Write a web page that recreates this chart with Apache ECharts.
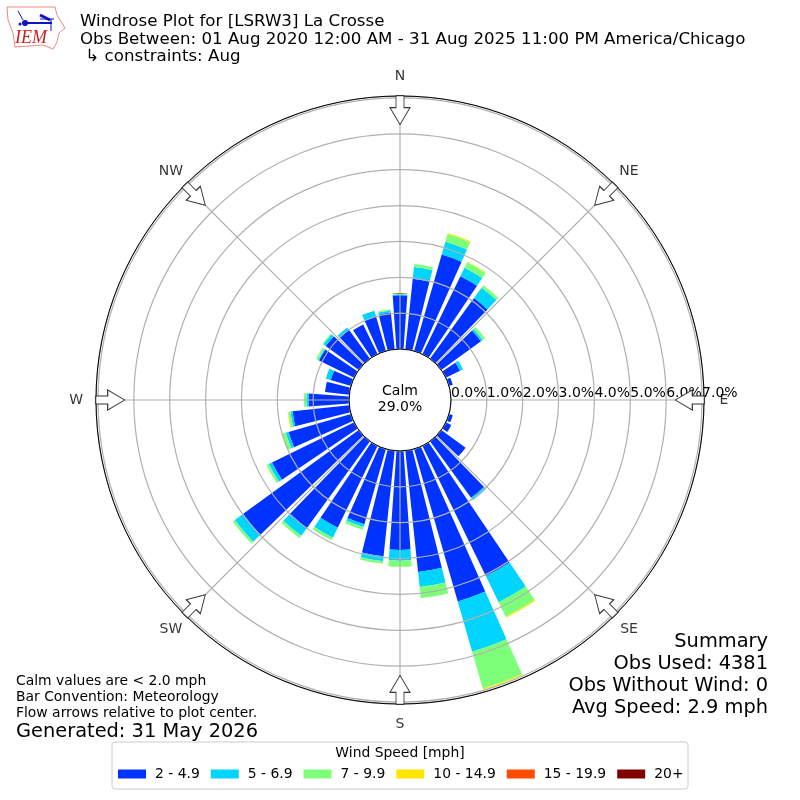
<!DOCTYPE html>
<html><head><meta charset="utf-8">
<style>html,body{margin:0;padding:0;background:#fff}#c{width:800px;height:800px}</style>
<script src="https://cdn.jsdelivr.net/npm/echarts@6/dist/echarts.min.js"></script>
</head><body><div id="c"></div>
<script>
const directions = Array.from({length:36},(_,i)=>String(i*10));
const speed2to5 =  [1.50,1.98,2.80,2.42,2.09,1.37,0.44,0.11,0,0,0,0.11,0.17,0.84,1.95,4.04,4.42,3.40,2.76,2.96,2.18,2.54,3.01,3.99,2.55,1.81,1.59,1.13,0.68,0.59,1.09,1.14,1.00,0.92,1.00,1.03];
const speed5to7 =  [0.03,0.33,0.37,0.26,0.36,0.06,0.09,0,0,0,0,0,0,0,0.08,0.81,1.46,0.42,0.30,0.14,0.08,0.31,0.25,0.28,0.10,0.08,0.06,0.06,0,0.14,0.03,0.08,0.08,0,0.17,0.06];
const speed7to10 = [0.03,0.08,0.22,0.17,0.08,0.08,0,0,0,0,0,0,0,0,0,0.45,1.07,0.32,0.17,0.07,0.08,0.08,0.08,0.07,0.07,0.11,0.06,0.07,0,0,0.06,0.03,0,0,0,0.03];
const speed10to15 =[0,0,0.03,0.02,0,0,0,0,0,0,0,0,0,0,0,0.03,0.03,0,0,0,0,0,0,0,0,0,0.02,0,0,0,0,0,0,0,0,0];
const speed15to20 = directions.map(()=>0);
const speed20plus = directions.map(()=>0);
const speedNames = ['2 - 4.9','5 - 6.9','7 - 9.9','10 - 14.9','15 - 19.9','20+'];
const speedColors = ['#0033ff','#00d4ff','#7dff7a','#ffe600','#ff4a00','#800000'];
const speedSeries = [speed2to5,speed5to7,speed7to10,speed10to15,speed15to20,speed20plus];
const compassNames = ['E','SE','S','SW','W','NW','N','NE'];
const arrowAngles = [0,45,90,135,180,225,270,315];
const arrowRadius = 6.66;
const compassRadius = 7.61;
const radiusMax = 7.055;
const titleLines = 'Windrose Plot for [LSRW3] La Crosse\nObs Between: 01 Aug 2020 12:00 AM - 31 Aug 2025 11:00 PM America/Chicago\n \u21b3 constraints: Aug';
const F = '"DejaVu Sans"';
const txt = (x,y,text,size,align,extra) => ({type:'text',silent:true,z:20,style:Object.assign({x,y,text,font:size+'px '+F,fill:'#000',textAlign:align||'left',textVerticalAlign:'middle'},extra||{})});

const chart = echarts.init(document.getElementById('c'),null,{renderer:'canvas'});
const bars = speedSeries.map((d,i)=>({
  name:speedNames[i],type:'bar',coordinateSystem:'polar',polarIndex:0,stack:'wind',
  data:d,barWidth:'80%',itemStyle:{color:speedColors[i]},z:2,silent:true
}));
const arrows = {
  type:'scatter',coordinateSystem:'polar',polarIndex:1,silent:true,z:8,
  data:arrowAngles.map(a=>({value:[arrowRadius,a],symbolRotate:-((a+90)%360)})),
  symbol:'path://M6,0 L14,0 L14,12 L20,12 L10,29 L0,12 L6,12 Z',
  symbolSize:[20,29],
  itemStyle:{color:'#fff',borderColor:'#333',borderWidth:1,opacity:1}
};
const compass = {
  type:'scatter',coordinateSystem:'polar',polarIndex:1,silent:true,z:9,clip:false,
  data:arrowAngles.map((a,i)=>({value:[compassRadius,a],name:compassNames[i]})),
  symbol:'circle',symbolSize:1,itemStyle:{color:'rgba(0,0,0,0)'},
  label:{show:true,position:'inside',formatter:'{b}',fontFamily:F,fontSize:14,color:'#000'}
};
chart.setOption({
  animation:false,
  backgroundColor:'#fff',
  title:{text:titleLines,left:80,top:12.5,padding:0,textStyle:{fontFamily:F,fontWeight:'normal',fontSize:16.67,lineHeight:17.8,color:'#000'}},
  polar:[{center:[400,400],radius:[51,304]},{center:[400,400],radius:[51,304]}],
  angleAxis:[
    {polarIndex:0,type:'category',data:directions,startAngle:95,clockwise:true,boundaryGap:true,show:false},
    {polarIndex:1,type:'value',min:0,max:360,interval:45,startAngle:0,clockwise:true,z:6,
     axisLine:{show:true,lineStyle:{color:'#000',width:1}},axisTick:{show:false},
     axisLabel:{show:false},
     splitLine:{show:true,lineStyle:{color:'#b0b0b0',width:1.2}}}
  ],
  radiusAxis:[
    {polarIndex:0,type:'value',min:0,max:radiusMax,show:false},
    {polarIndex:1,type:'value',min:0,max:radiusMax,interval:1,z:6,
     axisLine:{show:false},axisTick:{show:false},
     axisLabel:{show:true,margin:0,align:'left',verticalAlign:'bottom',fontFamily:F,fontSize:14,color:'#000',hideOverlap:false,showMaxLabel:false,
       formatter:v=>v<=7?v.toFixed(1)+'%':''},
     splitLine:{show:true,lineStyle:{color:'#b0b0b0',width:1.2}}}
  ],
  legend:{data:speedNames,orient:'horizontal',left:113,top:762,icon:'rect',itemWidth:28,itemHeight:9,itemGap:11,z:21,
    selectedMode:false,textStyle:{fontFamily:F,fontSize:13.9,color:'#000',padding:[0,0,0,4]}},
  series:[...bars,arrows,compass],
  graphic:[
    {type:'rect',silent:true,z:19,shape:{x:112,y:742,width:576,height:47,r:3},style:{fill:'#fff',stroke:'#ccc',lineWidth:1}},
    txt(400,753,'Wind Speed [mph]',13.9,'center'),
    txt(400,391,'Calm',14,'center'),
    txt(400,407,'29.0%',14,'center'),
    txt(16,681,'Calm values are < 2.0 mph',13.9),
    txt(16,697,'Bar Convention: Meteorology',13.9),
    txt(16,713,'Flow arrows relative to plot center.',13.9),
    txt(16,732,'Generated: 31 May 2026',19.4),
    txt(768,642,'Summary',19.4,'right'),
    txt(768,664,'Obs Used: 4381',19.4,'right'),
    txt(768,686,'Obs Without Wind: 0',19.4,'right'),
    txt(768,708,'Avg Speed: 2.9 mph',19.4,'right'),
    {type:'polygon',silent:true,z:20,shape:{points:[[7,7],[55,7],[57,15],[65,28],[59,33],[57,42],[53,49],[43,45],[15,47],[13,33],[8,20]]},style:{fill:'#fff',stroke:'#e88',lineWidth:1}},
    {type:'line',silent:true,z:21,shape:{x1:25,y1:23,x2:52,y2:23},style:{stroke:'#11c',lineWidth:2}},
    {type:'circle',silent:true,z:21,shape:{cx:25,cy:23,r:3},style:{fill:'#11c'}},
    {type:'line',silent:true,z:21,shape:{x1:18,y1:11,x2:23,y2:20},style:{stroke:'#11c',lineWidth:1}},
    {type:'line',silent:true,z:21,shape:{x1:40,y1:15,x2:50,y2:20},style:{stroke:'#11c',lineWidth:3}},
    {type:'line',silent:true,z:21,shape:{x1:40,y1:19,x2:54,y2:19},style:{stroke:'#11c',lineWidth:1}},
    {type:'line',silent:true,z:21,shape:{x1:51,y1:19,x2:51,y2:31},style:{stroke:'#11c',lineWidth:1}},
    {type:'circle',silent:true,z:21,shape:{cx:20,cy:24,r:1.5},style:{fill:'#11c'}},
    {type:'text',silent:true,z:21,style:{x:15,y:47,text:'IEM',font:'italic 18px "Liberation Serif"',fill:'#c22',textVerticalAlign:'bottom'}}
  ]
});
</script></body></html>
